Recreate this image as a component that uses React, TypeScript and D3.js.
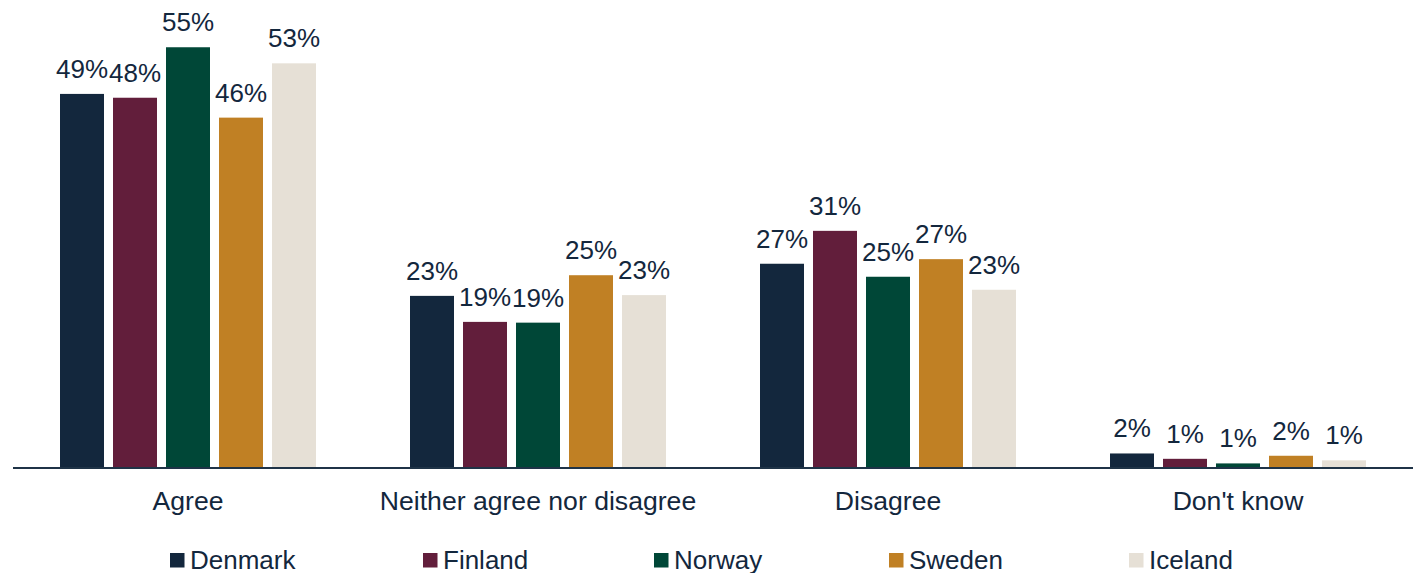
import * as d3 from "d3";
import { useEffect, useRef } from "react";

const categories = ["Agree", "Neither agree nor disagree", "Disagree", "Don't know"];
const countries = ["Denmark", "Finland", "Norway", "Sweden", "Iceland"];
const colors = ["#13273d", "#621e3b", "#004737", "#c08024", "#e6e0d6"];

// share of respondents (%), per category, per country
const denmark = [48.9, 22.5, 26.7, 1.9];
const finland = [48.4, 19.1, 31.0, 1.2];
const norway = [55.0, 19.0, 25.0, 0.6];
const sweden = [45.8, 25.2, 27.3, 1.6];
const iceland = [52.9, 22.6, 23.3, 1.0];
const labels = [
  ["49%", "48%", "55%", "46%", "53%"],
  ["23%", "19%", "19%", "25%", "23%"],
  ["27%", "31%", "25%", "27%", "23%"],
  ["2%", "1%", "1%", "2%", "1%"],
];

const series = [denmark, finland, norway, sweden, iceland];
const textColor = "#13273d";

export default function App() {
  const ref = useRef<SVGSVGElement>(null);

  useEffect(() => {
    if (!ref.current) return;
    const svg = d3.select(ref.current);
    svg.selectAll("*").remove();

    const width = 1417,
      height = 573;
    const font = "'Liberation Sans', Arial, sans-serif";

    svg.attr("width", width).attr("height", height);

    const x0 = d3.scaleBand().domain(categories).range([13, 1413]);
    const x1 = d3
      .scaleBand()
      .domain(countries)
      .range([0, 265])
      .paddingInner(0.17)
      .paddingOuter(0.085);
    const innerOffset = (x0.bandwidth() - 265) / 2;

    const y = d3.scaleLinear().domain([0, 60]).range([468, 9]);

    const data = categories.flatMap((cat, ci) =>
      countries.map((c, si) => ({
        cat,
        country: c,
        value: series[si][ci],
        label: labels[ci][si],
        color: colors[si],
      }))
    );

    const g = svg.append("g");

    g.selectAll("rect")
      .data(data)
      .enter()
      .append("rect")
      .attr("x", (d) => x0(d.cat)! + innerOffset + x1(d.country)!)
      .attr("y", (d) => y(d.value))
      .attr("width", x1.bandwidth())
      .attr("height", (d) => y(0) - y(d.value))
      .attr("fill", (d) => d.color);

    // value labels
    g.selectAll("text.val")
      .data(data)
      .enter()
      .append("text")
      .attr("class", "val")
      .attr("x", (d) => x0(d.cat)! + innerOffset + x1(d.country)! + x1.bandwidth() / 2)
      .attr("y", (d) => y(d.value) - 16)
      .attr("text-anchor", "middle")
      .attr("font-family", font)
      .attr("font-size", "26px")
      .attr("fill", textColor)
      .text((d) => d.label);

    // baseline
    svg.append("line")
      .attr("x1", 13)
      .attr("x2", 1413)
      .attr("y1", y(0))
      .attr("y2", y(0))
      .attr("stroke", "#1f3347")
      .attr("stroke-width", 2);

    // category labels
    svg.selectAll("text.cat")
      .data(categories)
      .enter()
      .append("text")
      .attr("class", "cat")
      .attr("x", (d) => x0(d)! + x0.bandwidth() / 2)
      .attr("y", 510)
      .attr("text-anchor", "middle")
      .attr("font-family", font)
      .attr("font-size", "26.6px")
      .attr("fill", textColor)
      .text((d) => d);

    // legend
    const legendX = [170, 423, 654, 889, 1129];
    const legend = svg.append("g");
    countries.forEach((c, i) => {
      legend.append("rect")
        .attr("x", legendX[i])
        .attr("y", 553)
        .attr("width", 14.5)
        .attr("height", 14.5)
        .attr("fill", colors[i]);
      legend.append("text")
        .attr("x", legendX[i] + 20)
        .attr("y", 569)
        .attr("font-family", font)
        .attr("font-size", "26px")
        .attr("fill", textColor)
        .text(c);
    });
  }, []);

  return (
    <svg
      ref={ref}
      style={{ position: "absolute", left: 0, top: 0, display: "block" }}
    />
  );
}
